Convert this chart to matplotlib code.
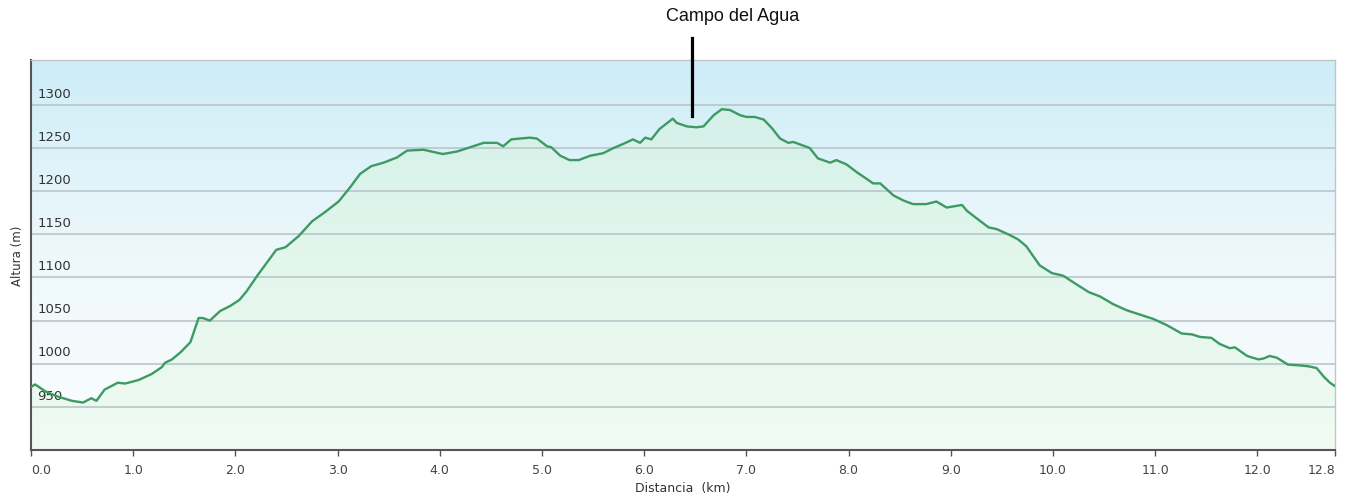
import numpy as np
import matplotlib
matplotlib.use("Agg")
import matplotlib.pyplot as plt
from matplotlib.colors import LinearSegmentedColormap

# perfil de altura (distancia en km, altura en m)
distancia = [0.00, 0.04, 0.14, 0.26, 0.40, 0.51, 0.59, 0.64, 0.72, 0.85, 0.92, 1.05, 1.18, 1.28, 1.31,
             1.38, 1.47, 1.56, 1.64, 1.68, 1.75, 1.85, 1.95, 2.04, 2.11, 2.22, 2.32, 2.40, 2.49, 2.62,
             2.75, 2.88, 3.01, 3.12, 3.22, 3.33, 3.45, 3.58, 3.68, 3.84, 4.03, 4.17, 4.30, 4.43, 4.56,
             4.62, 4.70, 4.88, 4.95, 5.05, 5.09, 5.18, 5.27, 5.36, 5.47, 5.60, 5.70, 5.80, 5.89, 5.96,
             6.01, 6.07, 6.15, 6.28, 6.32, 6.42, 6.51, 6.58, 6.68, 6.76, 6.84, 6.94, 7.00, 7.08, 7.17,
             7.25, 7.33, 7.41, 7.46, 7.62, 7.70, 7.82, 7.88, 7.98, 8.08, 8.18, 8.24, 8.31, 8.44, 8.54,
             8.63, 8.76, 8.86, 8.96, 9.11, 9.16, 9.27, 9.37, 9.45, 9.58, 9.66, 9.74, 9.87, 9.99, 10.10,
             10.23, 10.35, 10.46, 10.59, 10.72, 10.85, 10.98, 11.11, 11.26, 11.36, 11.44, 11.55, 11.63,
             11.73, 11.78, 11.90, 12.01, 12.06, 12.12, 12.19, 12.30, 12.42, 12.50, 12.58, 12.65, 12.71,
             12.76]
altura = [973, 976, 968, 962, 957, 955, 960, 957, 970, 978, 977, 981, 988, 996, 1001,
          1005, 1014, 1025, 1053, 1053, 1050, 1061, 1067, 1074, 1084, 1103, 1119, 1132, 1135, 1148,
          1165, 1176, 1188, 1204, 1220, 1229, 1233, 1239, 1247, 1248, 1243, 1246, 1251, 1256, 1256,
          1252, 1260, 1262, 1261, 1252, 1251, 1241, 1236, 1236, 1241, 1244, 1250, 1255, 1260, 1256,
          1262, 1260, 1272, 1284, 1279, 1275, 1274, 1275, 1288, 1295, 1294, 1288, 1286, 1286, 1283,
          1273, 1261, 1256, 1257, 1250, 1238, 1233, 1236, 1231, 1222, 1214, 1209, 1209, 1195, 1189,
          1185, 1185, 1188, 1181, 1184, 1177, 1167, 1158, 1156, 1149, 1144, 1136, 1114, 1105, 1102,
          1092, 1083, 1078, 1069, 1062, 1057, 1052, 1045, 1035, 1034, 1031, 1030, 1023,
          1018, 1019, 1009, 1005, 1006, 1009, 1007, 999, 998, 997, 995, 985, 978,
          974]

xticks = [0, 1, 2, 3, 4, 5, 6, 7, 8, 9, 10, 11, 12, 12.76]
xtick_labels = ["0.0", "1.0", "2.0", "3.0", "4.0", "5.0", "6.0", "7.0", "8.0", "9.0",
                "10.0", "11.0", "12.0", "12.8"]
yticks = [950, 1000, 1050, 1100, 1150, 1200, 1250, 1300]

punto_nombre = "Campo del Agua"
punto_km = 6.47

x_max = distancia[-1]
y_min, y_max = 900, 1352

fig = plt.figure(figsize=(13.54, 5.04), dpi=100)
ax = fig.add_axes([31 / 1354, 54 / 504, 1304 / 1354, 390 / 504])
ax.set_xlim(0, x_max)
ax.set_ylim(y_min, y_max)

# fondo azul degradado
cmap_fondo = LinearSegmentedColormap.from_list("fondo", ["#fbfdfe", "#eef8fb", "#cdedf8"])
grad = np.linspace(0, 1, 256).reshape(-1, 1)
ax.imshow(grad, cmap=cmap_fondo, origin="lower", aspect="auto",
          extent=[0, x_max, y_min, y_max], zorder=0)

# relleno verde degradado bajo la curva
cmap_verde = LinearSegmentedColormap.from_list("verde", ["#f0fbf3", "#e2f6ec", "#d0efe9"])
img = ax.imshow(grad, cmap=cmap_verde, origin="lower", aspect="auto",
                extent=[0, x_max, y_min, y_max], zorder=1)
relleno = ax.fill_between(distancia, altura, y_min, color="none", lw=0)
img.set_clip_path(relleno.get_paths()[0], transform=ax.transData)

for y in yticks:
    ax.axhline(y, color="#b9c6ca", lw=1.2, zorder=2)
    ax.text(0.06, y + 5, str(y), fontsize=9.5, color="#333333", ha="left", va="bottom", zorder=2)

ax.plot(distancia, altura, color="#3d9a62", lw=1.7, zorder=3)

# marca del punto
ax.plot([punto_km, punto_km], [1287, 1377], color="black", lw=2.3, clip_on=False, zorder=4)
ax.text(6.87, 1402, punto_nombre, fontsize=13, family="Liberation Sans", ha="center", va="center",
        color="#111111", clip_on=False)

ax.set_yticks([])
ax.set_xticks(xticks)
ax.set_xticklabels(xtick_labels, fontsize=9, color="#444444")
labels = ax.get_xticklabels()
labels[0].set_ha("left")
labels[-1].set_ha("right")
ax.tick_params(axis="x", length=4, width=1, color="#555555", pad=6)

for lado in ["top", "right"]:
    ax.spines[lado].set_color("#c4c4c4")
    ax.spines[lado].set_linewidth(1)
for lado in ["left", "bottom"]:
    ax.spines[lado].set_color("#555555")
    ax.spines[lado].set_linewidth(1.5)

ax.set_xlabel("Distancia  (km)", fontsize=9, color="#333333", labelpad=4)
fig.text(18 / 1354, 1 - 256 / 504, "Altura (m)", rotation=90, fontsize=8.5, color="#333333",
         ha="center", va="center")

fig.savefig("out.png", dpi=100)
